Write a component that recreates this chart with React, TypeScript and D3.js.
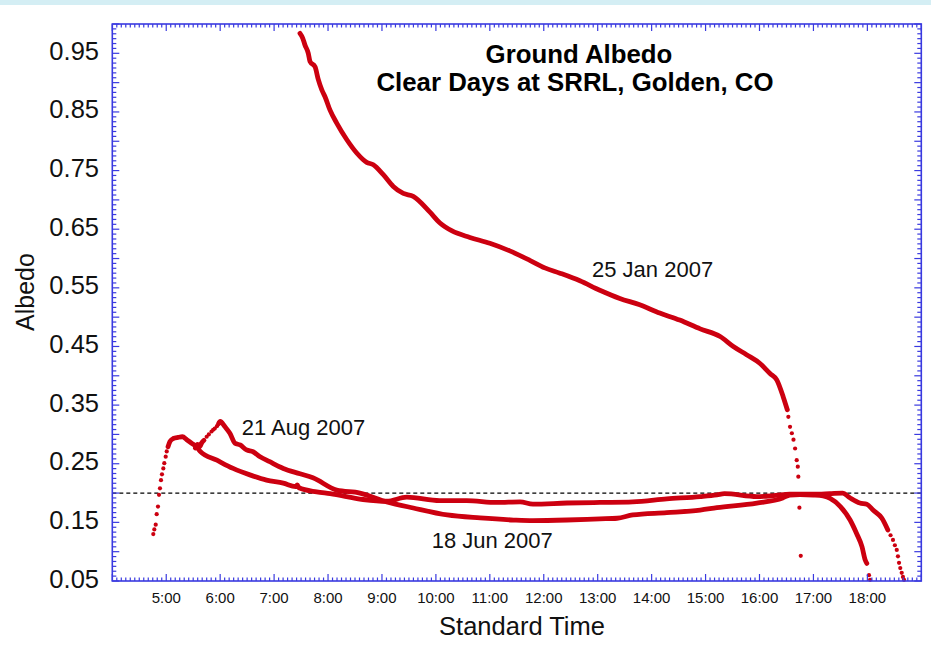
import React from "react";
import * as d3 from "d3";

// ---- data (hour of standard time, albedo) ----
const janLine: [number, number][] = [
  [7.48, 0.984], [7.53, 0.976], [7.573, 0.964], [7.634, 0.95], [7.666, 0.936], [7.759, 0.927],
  [7.82, 0.905], [7.883, 0.888], [7.944, 0.876], [8.037, 0.853], [8.161, 0.831], [8.346, 0.803],
  [8.532, 0.78], [8.717, 0.764], [8.84, 0.76], [9.025, 0.743], [9.21, 0.723], [9.396, 0.711],
  [9.58, 0.706], [9.89, 0.679], [10.07, 0.661], [10.3, 0.647], [10.63, 0.636], [11.0, 0.626],
  [11.37, 0.613], [11.74, 0.597], [12.02, 0.584], [12.3, 0.575], [12.67, 0.562], [13.04, 0.546],
  [13.41, 0.532], [13.78, 0.521], [14.15, 0.507], [14.52, 0.495], [14.9, 0.48], [15.27, 0.467],
  [15.515, 0.45], [15.76, 0.436], [16.01, 0.421], [16.195, 0.404], [16.32, 0.393], [16.44, 0.364],
  [16.516, 0.342],
];
const janDots: [number, number][] = [
  [16.535, 0.33], [16.566, 0.313], [16.6, 0.302], [16.63, 0.291], [16.66, 0.276], [16.69, 0.256],
  [16.71, 0.245], [16.72, 0.228], [16.74, 0.175], [16.765, 0.093],
];

const junDawnDots: [number, number][] = [
  [4.76, 0.13], [4.779, 0.138], [4.805, 0.146], [4.823, 0.164], [4.847, 0.177], [4.866, 0.197],
  [4.884, 0.208], [4.903, 0.222], [4.921, 0.232], [4.946, 0.242], [4.964, 0.251], [4.99, 0.262],
  [5.009, 0.271],
];
const junLine: [number, number][] = [
  [5.033, 0.279], [5.07, 0.288], [5.13, 0.293], [5.22, 0.295], [5.3, 0.296], [5.38, 0.291],
  [5.47, 0.285], [5.565, 0.279], [5.63, 0.271], [5.94, 0.256], [6.24, 0.242], [6.55, 0.231],
  [6.86, 0.222], [7.17, 0.217], [7.4, 0.211], [7.43, 0.214], [7.46, 0.209], [7.79, 0.202],
  [8.04, 0.199], [8.65, 0.189], [9.09, 0.186], [9.46, 0.193], [10.07, 0.187], [10.57, 0.187],
  [11.13, 0.184], [11.56, 0.185], [11.8, 0.181], [12.43, 0.183], [13.04, 0.184], [13.65, 0.185],
  [14.28, 0.19], [14.9, 0.194], [15.21, 0.197], [15.35, 0.199], [15.95, 0.194], [16.3, 0.196],
  [16.56, 0.198], [17.0, 0.198], [17.3, 0.199], [17.54, 0.2], [17.675, 0.192], [17.86, 0.183],
  [17.99, 0.181], [18.105, 0.171], [18.27, 0.157], [18.38, 0.137],
];
const junDuskDots: [number, number][] = [
  [18.43, 0.128], [18.475, 0.12], [18.51, 0.111], [18.545, 0.103], [18.567, 0.092], [18.587, 0.081],
  [18.61, 0.072], [18.637, 0.064], [18.66, 0.057], [18.68, 0.052],
];

const augStartLine: [number, number][] = [
  [5.54, 0.277], [5.58, 0.283], [5.62, 0.279], [5.66, 0.286], [5.7, 0.29],
];
const augRiseDots: [number, number][] = [
  [5.75, 0.296], [5.79, 0.3], [5.84, 0.305], [5.87, 0.308], [5.9, 0.31], [5.94, 0.314],
];
const augLine: [number, number][] = [
  [5.97, 0.318], [6.0, 0.322], [6.09, 0.313], [6.18, 0.302], [6.275, 0.285], [6.37, 0.282],
  [6.49, 0.2735], [6.61, 0.2705], [6.74, 0.262], [6.92, 0.2535], [7.11, 0.2445], [7.17, 0.242],
  [7.48, 0.233], [7.72, 0.226], [8.16, 0.205], [8.59, 0.2], [9.09, 0.185], [9.58, 0.1745],
  [10.21, 0.1626], [10.82, 0.1575], [11.44, 0.154], [11.8, 0.153], [12.43, 0.154], [13.04, 0.156],
  [13.36, 0.157], [13.65, 0.1626], [14.28, 0.1665], [14.9, 0.171], [15.21, 0.175], [15.95, 0.183],
  [16.43, 0.1916], [16.56, 0.1967], [16.75, 0.1975], [17.0, 0.1967], [17.18, 0.195], [17.31, 0.191],
  [17.5, 0.177], [17.68, 0.154], [17.8, 0.131], [17.9, 0.1085], [17.96, 0.0858], [17.99, 0.08],
];
const augDuskDots: [number, number][] = [[18.03, 0.06], [18.05, 0.052]];

const yTickLabels = [0.05, 0.15, 0.25, 0.35, 0.45, 0.55, 0.65, 0.75, 0.85, 0.95];
const xTickHours = [5, 6, 7, 8, 9, 10, 11, 12, 13, 14, 15, 16, 17, 18];
const referenceAlbedo = 0.2;

const annotations = [
  { text: "25 Jan 2007", h: 12.895, v: 0.5685 },
  { text: "21 Aug 2007", h: 6.4, v: 0.299 },
  { text: "18 Jun 2007", h: 9.922, v: 0.1063 },
];

const W = 931;
const H = 651;
const L = 112.3, R = 921.3, T = 24, B = 581;
const RED = "#cc0010";
const BLUE = "#3a3ae0";
const FONT = "'Liberation Sans', Arial, Helvetica, sans-serif";

export default function App() {
  const x = d3.scaleLinear().domain([4, 19]).range([L, R]);
  const y = d3.scaleLinear().domain([0.05, 1.0]).range([B, T]);
  const line = d3
    .line<[number, number]>()
    .x((d) => x(d[0]))
    .y((d) => y(d[1]))
    .curve(d3.curveMonotoneX);

  const yMinor = d3.range(0, 115).map((i) => ({ v: 0.05 + (i * 0.05) / 6, major: i % 6 === 0 }));
  const xMinor = d3.range(0, 181).map((i) => ({ h: 4 + i / 12, major: i % 12 === 0 }));

  const lines = [janLine, junLine, augStartLine, augLine];
  const dots = [...janDots, ...junDawnDots, ...junDuskDots, ...augRiseDots, ...augDuskDots];

  return (
    <svg
      width={W}
      height={H}
      style={{ position: "absolute", left: 0, top: 0, background: "#fff" }}
      fontFamily={FONT}
    >
      <rect x={0} y={0} width={W} height={5} fill="#d4eef4" />

      {/* reference line */}
      <line
        x1={L}
        x2={R}
        y1={y(referenceAlbedo)}
        y2={y(referenceAlbedo)}
        stroke="#000"
        strokeWidth={1.2}
        strokeDasharray="4,3"
      />

      {/* data */}
      <g>
        {lines.map((d, i) => (
          <path
            key={i}
            d={line(d) || ""}
            fill="none"
            stroke={RED}
            strokeWidth={4.8}
            strokeLinejoin="round"
            strokeLinecap="round"
          />
        ))}
        {dots.map((d, i) => (
          <circle key={i} cx={x(d[0])} cy={y(d[1])} r={2.1} fill={RED} />
        ))}
      </g>

      {/* frame */}
      <rect x={L} y={T} width={R - L} height={B - T} fill="none" stroke={BLUE} strokeWidth={1.6} />
      <g stroke={BLUE} strokeWidth={1.2}>
        {yMinor.map((t, i) => {
          const yy = y(t.v);
          const len = t.major ? 7 : 4;
          return (
            <g key={i}>
              <line x1={L} x2={L + len} y1={yy} y2={yy} />
              <line x1={R} x2={R - len} y1={yy} y2={yy} />
            </g>
          );
        })}
        {xMinor.map((t, i) => {
          const xx = x(t.h);
          const len = t.major ? 7 : 3.5;
          return (
            <g key={i}>
              <line x1={xx} x2={xx} y1={B} y2={B - len} />
              <line x1={xx} x2={xx} y1={T} y2={T + len} />
            </g>
          );
        })}
      </g>

      {/* y tick labels */}
      <g fontSize={25.5} fill="#111" textAnchor="end">
        {yTickLabels.map((v) => (
          <text key={v} x={99} y={y(v) + 6.5}>
            {v.toFixed(2)}
          </text>
        ))}
      </g>
      {/* x tick labels */}
      <g fontSize={15} fill="#111" textAnchor="middle">
        {xTickHours.map((h) => (
          <text key={h} x={x(h)} y={603}>
            {`${h}:00`}
          </text>
        ))}
      </g>

      {/* axis titles */}
      <text x={522} y={635} fontSize={25.5} textAnchor="middle" fill="#111">
        Standard Time
      </text>
      <text
        transform="translate(34,292) rotate(-90)"
        fontSize={25}
        textAnchor="middle"
        fill="#111"
      >
        Albedo
      </text>

      {/* title */}
      <g fontSize={25.8} fontWeight="bold" textAnchor="middle" fill="#000">
        <text x={579} y={63}>Ground Albedo</text>
        <text x={575} y={91}>Clear Days at SRRL, Golden, CO</text>
      </g>

      {/* annotations */}
      <g fontSize={22} fill="#111" textAnchor="start">
        {annotations.map((a) => (
          <text key={a.text} x={x(a.h)} y={y(a.v)}>
            {a.text}
          </text>
        ))}
      </g>
    </svg>
  );
}
